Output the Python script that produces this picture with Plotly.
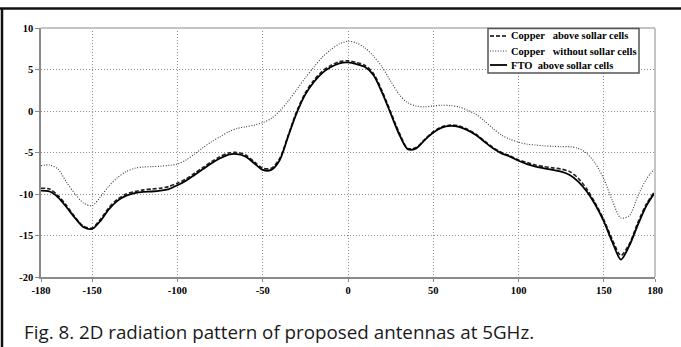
import plotly.graph_objects as go

# ---------------- data ----------------
angles = list(range(-180, 181, 5))

copper_above = [
    -9.3, -9.4, -10.2, -11.4, -12.8, -13.9, -14.1, -13.0, -11.6, -10.6,
    -10.0, -9.7, -9.5, -9.4, -9.3, -9.1, -8.7, -8.2, -7.5, -6.8,
    -6.1, -5.5, -5.05, -5.0, -5.3, -6.1, -6.9, -6.9, -5.7, -2.9,
    0.0, 2.2, 3.7, 4.8, 5.5, 5.95, 6.05, 5.85, 5.5, 4.5,
    2.4, -0.1, -2.6, -4.5, -4.4, -3.4, -2.5, -1.9, -1.7, -1.8,
    -2.2, -2.8, -3.6, -4.4, -5.0, -5.4, -5.9, -6.2, -6.5, -6.7,
    -6.85, -7.0, -7.3, -8.1, -9.4, -11.1, -13.1, -15.5, -17.4, -16.0,
    -13.4, -11.2, -9.6,
]

copper_without = [
    -6.6, -6.5, -7.0, -8.6, -10.0, -11.1, -11.4, -10.3, -9.0, -8.0,
    -7.3, -6.9, -6.75, -6.7, -6.65, -6.55, -6.4, -5.9, -5.2, -4.4,
    -3.7, -3.1, -2.5, -2.1, -1.9, -1.7, -1.4, -0.9, 0.0, 1.2,
    2.6, 4.0, 5.3, 6.5, 7.4, 8.1, 8.4, 8.2, 7.6, 6.6,
    5.3, 3.6, 2.0, 1.0, 0.6, 0.5, 0.6, 0.7, 0.65, 0.5,
    0.1, -0.4, -1.2, -2.1, -2.9, -3.4, -3.75, -4.0, -4.1, -4.2,
    -4.25, -4.3, -4.3, -4.5, -5.1, -6.3, -8.2, -10.8, -12.9, -12.6,
    -10.2, -8.2, -6.9,
]

fto_above = [
    -9.6, -9.7, -10.4, -11.6, -12.9, -14.0, -14.2, -13.2, -11.8, -10.8,
    -10.2, -9.9, -9.75, -9.7, -9.6, -9.4, -8.95, -8.4, -7.7, -7.0,
    -6.3, -5.7, -5.25, -5.2, -5.5, -6.3, -7.1, -7.1, -5.9, -3.0,
    -0.2, 2.0, 3.5, 4.6, 5.3, 5.75, 5.85, 5.65, 5.3, 4.3,
    2.2, -0.3, -2.8, -4.6, -4.5, -3.5, -2.6, -2.0, -1.8, -1.9,
    -2.3, -2.9, -3.7, -4.5, -5.1, -5.5, -6.0, -6.4, -6.7, -6.9,
    -7.1, -7.3, -7.7, -8.5, -9.7, -11.3, -13.3, -15.8, -17.9, -16.2,
    -13.7, -11.4, -9.8,
]

series_names = [
    "Copper\u00a0\u00a0\u00a0above sollar cells",
    "Copper\u00a0\u00a0\u00a0without sollar cells",
    "FTO\u00a0\u00a0above sollar cells",
]

x_ticks = [-180, -150, -100, -50, 0, 50, 100, 150, 180]
y_ticks = [-20, -15, -10, -5, 0, 5, 10]
caption = "Fig. 8. 2D radiation pattern of proposed antennas at 5GHz."

# ---------------- figure ----------------
DOT = "1px,1.6px"
DASH = "4px,2px"

fig = go.Figure()
fig.add_trace(go.Scatter(x=angles, y=copper_without, mode="lines", name=series_names[1],
                         line=dict(color="#3a3a3a", width=1.1, dash=DOT, shape="spline", smoothing=0.8),
                         showlegend=False))
fig.add_trace(go.Scatter(x=angles, y=copper_above, mode="lines", name=series_names[0],
                         line=dict(color="#222222", width=1.6, dash=DASH, shape="spline", smoothing=0.8),
                         showlegend=False))
fig.add_trace(go.Scatter(x=angles, y=fto_above, mode="lines", name=series_names[2],
                         line=dict(color="black", width=1.8, shape="spline", smoothing=0.8),
                         showlegend=False))

W, H = 681, 347
L, R, T, B = 41, 26, 28, 70
pw, ph = W - L - R, H - T - B

def px(xp):
    return (xp - L) / pw

def py(yp):
    return (H - B - yp) / ph

tickfont = dict(family="Liberation Serif", size=10.5, color="black", weight="bold")

fig.update_layout(
    width=W, height=H, autosize=False,
    margin=dict(l=L, r=R, t=T, b=B, pad=0),
    paper_bgcolor="white", plot_bgcolor="white",
    xaxis=dict(range=[-180, 180], tickvals=x_ticks, ticktext=[str(v) for v in x_ticks],
               showgrid=True, gridcolor="#8f8f8f", gridwidth=1, griddash="1px,2px",
               zeroline=False, showline=True, linecolor="#8a8a8a", linewidth=1.5,
               ticks="outside", ticklen=3, tickcolor="#8a8a8a", tickfont=tickfont),
    yaxis=dict(range=[-20, 10], tickvals=y_ticks, ticktext=[str(v) for v in y_ticks],
               showgrid=True, gridcolor="#8f8f8f", gridwidth=1, griddash="1px,2px",
               zeroline=False, showline=True, linecolor="#8a8a8a", linewidth=1.5,
               ticks="outside", ticklen=4, tickcolor="#8a8a8a", tickfont=tickfont),
)

shapes = []
# light top/right border of the plot area
shapes.append(dict(type="line", xref="paper", yref="paper", x0=0, x1=1, y0=1, y1=1,
                   line=dict(color="#c4c4c4", width=2)))
shapes.append(dict(type="line", xref="paper", yref="paper", x0=1, x1=1, y0=0, y1=1,
                   line=dict(color="#c4c4c4", width=2)))
# outer figure frame (top and left)
shapes.append(dict(type="line", xref="paper", yref="paper", x0=px(0), x1=px(W), y0=py(8.5), y1=py(8.5),
                   line=dict(color="#111111", width=2.5)))
shapes.append(dict(type="line", xref="paper", yref="paper", x0=px(2), x1=px(2), y0=py(8.5), y1=py(H),
                   line=dict(color="#111111", width=2.5)))
# legend box
shapes.append(dict(type="rect", xref="paper", yref="paper", x0=px(488), x1=px(639), y0=py(73), y1=py(28.5),
                   fillcolor="white", line=dict(color="#555555", width=1.5), layer="above"))

row_y = [36, 51, 65]
styles = [dict(color="black", width=1.6, dash=DASH),
          dict(color="#3a3a3a", width=1.1, dash=DOT),
          dict(color="black", width=1.8)]
annotations = []
for name, ry, st in zip(series_names, row_y, styles):
    shapes.append(dict(type="line", xref="paper", yref="paper", x0=px(490), x1=px(507),
                       y0=py(ry), y1=py(ry), line=st, layer="above"))
    annotations.append(dict(xref="paper", yref="paper", x=px(509), y=py(ry), xanchor="left",
                            yanchor="middle", showarrow=False, text=name,
                            font=dict(family="Liberation Serif", size=10.5, color="black", weight="bold")))

annotations.append(dict(xref="paper", yref="paper", x=px(22), y=py(332), xanchor="left",
                        yanchor="middle", showarrow=False, text=caption,
                        font=dict(family="Open Sans", size=18.8, color="#1a1a1a")))

fig.update_layout(shapes=shapes, annotations=annotations)

fig.write_html("out.html", config={"displayModeBar": False})

# remove default page margin so the figure sits at the window origin
with open("out.html", "r", encoding="utf-8") as f:
    html = f.read()
html = html.replace("<head>", "<head><style>html,body{margin:0;padding:0;overflow:hidden;}</style>", 1)
with open("out.html", "w", encoding="utf-8") as f:
    f.write(html)
